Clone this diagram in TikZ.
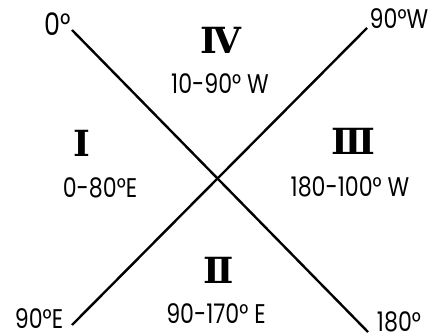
\documentclass[tikz,border=0pt]{standalone}
\usepackage{fontspec}
\setmainfont{Poppins}
\newfontfamily\romanfont{DejaVu Serif}
\newcommand{\nx}[1]{\scalebox{0.82}[1]{#1}}
\begin{document}
\begin{tikzpicture}[x=1pt,y=-1pt,
  lbl/.style={inner sep=0pt,font=\fontsize{27}{28}\selectfont},
  num/.style={inner sep=0pt,font=\romanfont\bfseries\fontsize{36}{36}\selectfont},
  ln/.style={line width=2.4pt}]
\useasboundingbox (0,0) rectangle (435,336);
\coordinate (a1) at (72,30);
\coordinate (a2) at (368,332);
\coordinate (b1) at (367,28);
\coordinate (b2) at (72,325);
\draw[ln] (a1) -- (a2);
\draw[ln] (b1) -- (b2);
\node[lbl,font=\fontsize{31}{32}\selectfont] (t0) at (58,24) {\nx{0°}};
\node[lbl] (t90w) at (399,19) {\nx{90°W}};
\node[lbl] (t90e) at (39,319) {\nx{90°E}};
\node[lbl] (t180) at (399,322) {\nx{180°}};
\node[num] (n4) at (221,40) {Ⅳ};
\node[lbl] (r4) at (220,84) {\nx{10-90° W}};
\node[num] (n1) at (82,143) {Ⅰ};
\node[lbl] (r1) at (100,188) {\nx{0-80°E}};
\node[num] (n3) at (353,141) {Ⅲ};
\node[lbl] (r3) at (350,187) {\nx{180-100° W}};
\node[num] (n2) at (219,270) {Ⅱ};
\node[lbl] (r2) at (216,314) {\nx{90-170° E}};
\end{tikzpicture}
\end{document}
